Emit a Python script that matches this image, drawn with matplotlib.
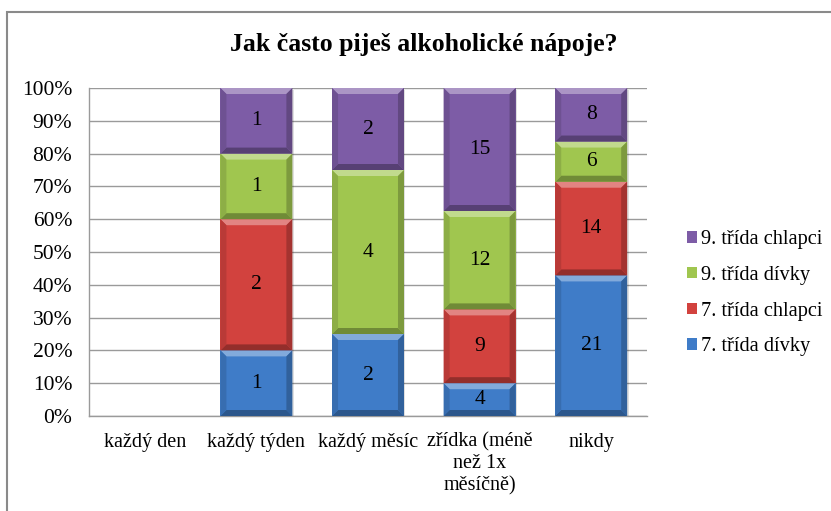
import numpy as np
import matplotlib
matplotlib.use("Agg")
import matplotlib.pyplot as plt
from matplotlib.patches import Polygon, Rectangle
from matplotlib.colors import to_rgb

plt.rcParams['font.family'] = ['Liberation Serif', 'DejaVu Serif']

categories = ["každý den", "každý týden", "každý měsíc",
              "zřídka (méně\nnež 1x\nměsíčně)", "nikdy"]
series_names = ["7. třída dívky", "7. třída chlapci", "9. třída dívky", "9. třída chlapci"]
divky7 = [0, 1, 2, 4, 21]
chlapci7 = [0, 2, 0, 9, 14]
divky9 = [0, 1, 4, 12, 6]
chlapci9 = [0, 1, 2, 15, 8]
yticklabels = ["0%", "10%", "20%", "30%", "40%", "50%", "60%", "70%", "80%", "90%", "100%"]

colors = ["#3f7cc8", "#d2423e", "#a0c64f", "#7d5ca6"]
series = [divky7, chlapci7, divky9, chlapci9]

W, H = 831, 511
fig = plt.figure(figsize=(W / 100, H / 100), dpi=100)
ax = fig.add_axes([89 / W, 1 - 416 / H, (647 - 89) / W, (416 - 88) / H])

data = np.array(series, dtype=float)
totals = data.sum(axis=0)
totals[totals == 0] = 1
frac = data / totals

x = np.arange(len(categories))
bw = 0.645
bottoms = np.zeros(len(categories))

# bevel sizes in data units (about 6 px)
bx = 6 / 111.6
by = 6 / 328.0


def shade(c, f):
    r = np.array(to_rgb(c))
    if f >= 0:
        return tuple(r + (1 - r) * f)
    return tuple(r * (1 + f))


for vals, fr, col in zip(series, frac, colors):
    for i in range(len(categories)):
        h = fr[i]
        if h <= 0:
            continue
        x0, x1 = x[i] - bw / 2, x[i] + bw / 2
        y0, y1 = bottoms[i], bottoms[i] + h
        # soft shadow
        ax.add_patch(Rectangle((x0 + 0.012, y0 - 0.006), bw, h, facecolor=(0, 0, 0, 0.12),
                               edgecolor='none', zorder=2))
        ax.bar(x[i], h, bw, bottom=y0, color=col, edgecolor='none', zorder=3)
        b_y = min(by, h / 3)
        # bevel faces
        ax.add_patch(Polygon([(x0, y1), (x1, y1), (x1 - bx, y1 - b_y), (x0 + bx, y1 - b_y)],
                             closed=True, facecolor=shade(col, 0.35), edgecolor='none', zorder=4))
        ax.add_patch(Polygon([(x0, y0), (x1, y0), (x1 - bx, y0 + b_y), (x0 + bx, y0 + b_y)],
                             closed=True, facecolor=shade(col, -0.3), edgecolor='none', zorder=4))
        ax.add_patch(Polygon([(x0, y0), (x0 + bx, y0 + b_y), (x0 + bx, y1 - b_y), (x0, y1)],
                             closed=True, facecolor=shade(col, -0.12), edgecolor='none', zorder=4))
        ax.add_patch(Polygon([(x1, y0), (x1 - bx, y0 + b_y), (x1 - bx, y1 - b_y), (x1, y1)],
                             closed=True, facecolor=shade(col, -0.22), edgecolor='none', zorder=4))
        ax.text(x[i], y0 + h / 2, str(vals[i]), ha='center', va='center',
                fontsize=15.5, color='black', zorder=5)
    bottoms += fr

ax.set_xlim(-0.5, len(categories) - 0.5)
ax.set_ylim(0, 1)
ax.set_yticks(np.linspace(0, 1, 11))
ax.set_yticklabels(yticklabels, fontsize=15.5)
ax.set_xticks(x)
ax.set_xticklabels(categories, fontsize=14.5, linespacing=1.18, va='top')
ax.tick_params(axis='both', length=0)
ax.tick_params(axis='y', pad=12)
ax.tick_params(axis='x', pad=12)
ax.yaxis.grid(True, color='#9a9a9a', linewidth=1.0, zorder=0)
ax.set_axisbelow(True)
for s in ['top', 'right']:
    ax.spines[s].set_visible(False)
for s in ['left', 'bottom']:
    ax.spines[s].set_color('#9a9a9a')
    ax.spines[s].set_linewidth(1.0)

fig.text(0.5 * (233 + 615) / W, 1 - 44 / H, "Jak často piješ alkoholické nápoje?",
         ha='center', va='center', fontsize=18.5, fontweight='bold')

handles = [Rectangle((0, 0), 1, 1, facecolor=c, edgecolor='none') for c in colors]
leg = fig.legend(handles[::-1], series_names[::-1], loc='upper left',
                 bbox_to_anchor=(679 / W, 1 - 222 / H), frameon=False, fontsize=14.7,
                 handlelength=0.5, handleheight=0.5, handletextpad=0.2, labelspacing=0.82,
                 borderaxespad=0)

# outer chart frame
fig.patches.append(Rectangle((7 / W, -0.05), 1.1, 1 - 12 / H + 0.05, transform=fig.transFigure,
                             fill=False, edgecolor='#8a8a8a', linewidth=1.5))

fig.savefig("out.png", dpi=100)
